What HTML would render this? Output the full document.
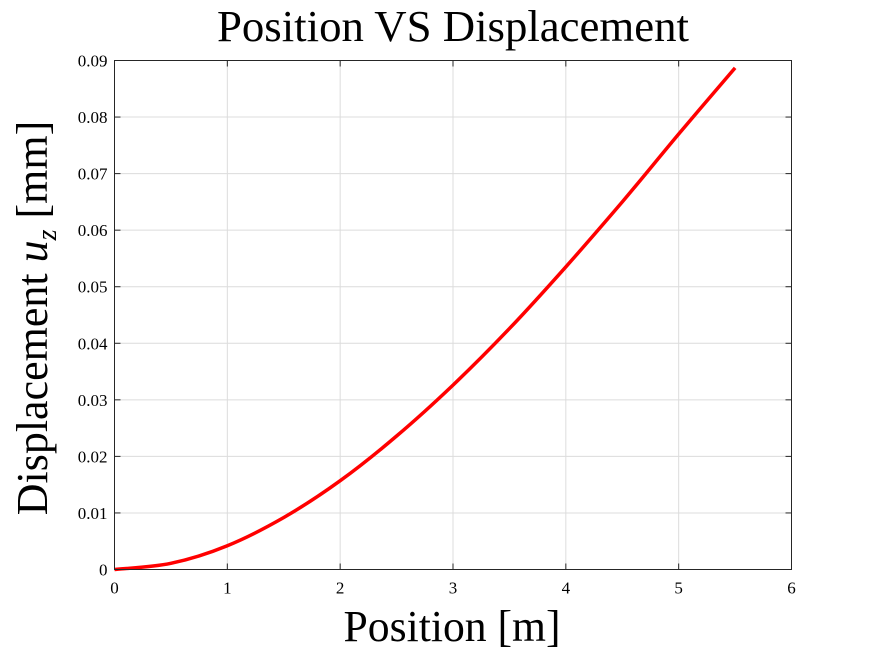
<!DOCTYPE html>
<html><head><meta charset="utf-8"><style>
body{margin:0;background:#fff;}
svg text{font-family:"Liberation Serif",serif;fill:#000;}
</style></head><body>
<svg id="chart" width="875" height="656">
<rect x="0" y="0" width="875" height="656" fill="#fff"/>
<g id="grid"></g>
<g id="ticks"></g>
<path id="curve" fill="none" stroke="#ff0000" stroke-width="3.5" stroke-linejoin="round"/>
<rect x="114.5" y="60.5" width="677" height="509" fill="none" stroke="#262626" stroke-width="1"/>
<text x="453" y="41" font-size="44" text-anchor="middle" textLength="472" lengthAdjust="spacingAndGlyphs">Position VS Displacement</text>
<text x="452" y="641" font-size="44" text-anchor="middle" textLength="217" lengthAdjust="spacingAndGlyphs">Position [m]</text>
<text transform="translate(47,318) rotate(-90)" font-size="44" text-anchor="middle">Displacement <tspan font-style="italic">u</tspan><tspan font-style="italic" font-size="28" dy="9">z</tspan><tspan dy="-9"> [mm]</tspan></text>
</svg>
<script>
const xTicks=[0,1,2,3,4,5,6];
const yTicks=[0,0.01,0.02,0.03,0.04,0.05,0.06,0.07,0.08,0.09];
const yTickLabels=["0","0.01","0.02","0.03","0.04","0.05","0.06","0.07","0.08","0.09"];
const xs=[0,0.5,1,1.5,2,2.5,3,3.5,4,4.5,5,5.5];
const ys=[0,0.0011,0.0042,0.0092,0.0157,0.0236,0.0326,0.0426,0.0535,0.065,0.077,0.0887];
const L=114.5,R=791.5,T=60.5,B=569.5;
const sx=v=>L+(v-0)/(6-0)*(R-L);
const sy=v=>B-(v-0)/(0.09-0)*(B-T);
const NS="http://www.w3.org/2000/svg";
const grid=document.getElementById('grid'),ticks=document.getElementById('ticks');
function mk(tag,attrs,parent){const e=document.createElementNS(NS,tag);for(const k in attrs)e.setAttribute(k,attrs[k]);parent.appendChild(e);return e;}
xTicks.forEach(v=>{
  const x=sx(v);
  const g=mk('line',{x1:x,x2:x,y1:T,y2:B,stroke:'#dcdcdc','stroke-width':1},grid);
  
  
  const t1=mk('line',{x1:x,x2:x,y1:B,y2:B-6,stroke:'#262626'},ticks);
  
  
  const t2=mk('line',{x1:x,x2:x,y1:T,y2:T+6,stroke:'#262626'},ticks);
  
  
  const lb=mk('text',{x:x,y:B+24,'font-size':17,'text-anchor':'middle'},ticks);
  lb.textContent=String(v);
  
  
});
yTicks.forEach((v,i)=>{
  const y=sy(v);
  const g=mk('line',{x1:L,x2:R,y1:y,y2:y,stroke:'#dcdcdc','stroke-width':1},grid);
  
  
  const t1=mk('line',{x1:L,x2:L+6,y1:y,y2:y,stroke:'#262626'},ticks);
  
  
  const t2=mk('line',{x1:R,x2:R-6,y1:y,y2:y,stroke:'#262626'},ticks);
  
  
  const lb=mk('text',{x:L-7,y:y+6,'font-size':17,'text-anchor':'end'},ticks);
  lb.textContent=yTickLabels[i];
  
  
});
const P=xs.map((v,i)=>[sx(v),sy(ys[i])]);
let d='M'+P[0][0].toFixed(1)+','+P[0][1].toFixed(1);
for(let i=0;i<P.length-1;i++){
  const p0=P[Math.max(i-1,0)],p1=P[i],p2=P[i+1],p3=P[Math.min(i+2,P.length-1)];
  const c1=[p1[0]+(p2[0]-p0[0])/6,p1[1]+(p2[1]-p0[1])/6];
  const c2=[p2[0]-(p3[0]-p1[0])/6,p2[1]-(p3[1]-p1[1])/6];
  d+='C'+c1.map(n=>n.toFixed(1)).join(',')+' '+c2.map(n=>n.toFixed(1)).join(',')+' '+p2[0].toFixed(1)+','+p2[1].toFixed(1);
}
document.getElementById('curve').setAttribute('d',d);
</script>
</body></html>
